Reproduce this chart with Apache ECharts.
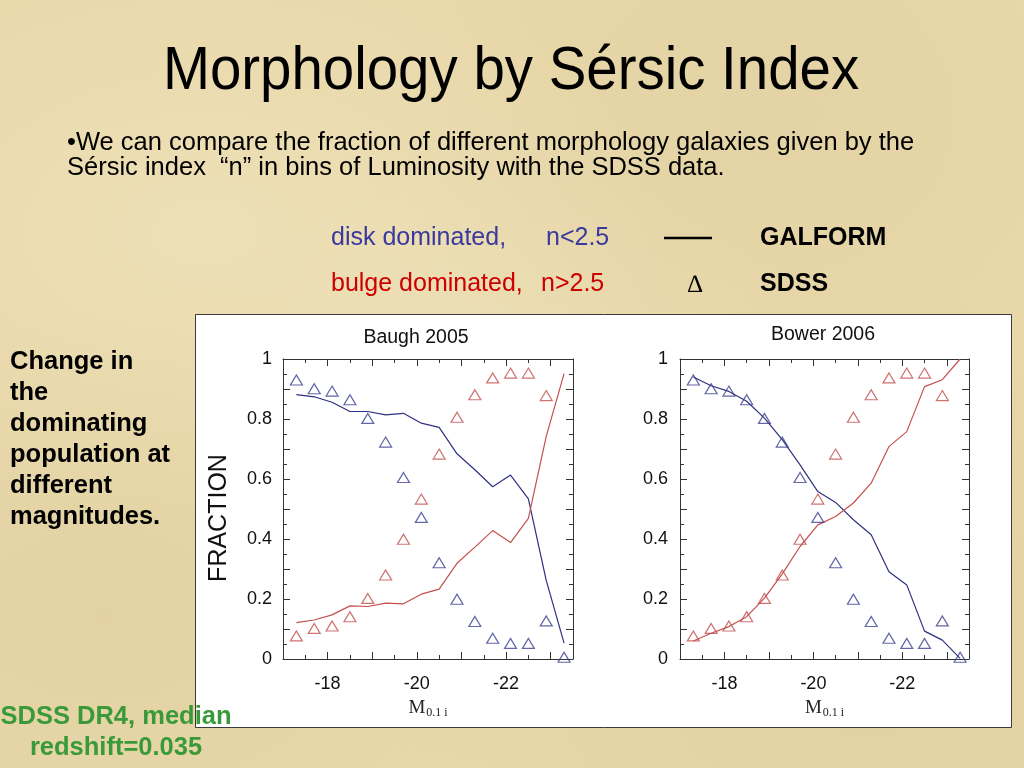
<!DOCTYPE html>
<html>
<head>
<meta charset="utf-8">
<script src="https://cdn.jsdelivr.net/npm/echarts@6/dist/echarts.min.js"></script>
<style>
html,body{margin:0;padding:0;width:1024px;height:768px;overflow:hidden;}
body{
  background-color:#e8d8aa;
  background-image:
    radial-gradient(ellipse at 20% 30%, rgba(250,240,210,0.30) 0%, rgba(250,240,210,0) 40%),
    radial-gradient(ellipse at 75% 15%, rgba(215,195,145,0.25) 0%, rgba(215,195,145,0) 35%),
    radial-gradient(ellipse at 85% 85%, rgba(210,190,140,0.30) 0%, rgba(210,190,140,0) 40%),
    radial-gradient(ellipse at 10% 80%, rgba(215,195,145,0.30) 0%, rgba(215,195,145,0) 35%),
    radial-gradient(ellipse at 50% 55%, rgba(245,235,205,0.30) 0%, rgba(245,235,205,0) 45%);
}
#chart{width:1024px;height:768px;}
</style>
</head>
<body>
<div id="chart"></div>
<script>
// ---- data ----
const mags = [-17.3,-17.7,-18.1,-18.5,-18.9,-19.3,-19.7,-20.1,-20.5,-20.9,-21.3,-21.7,-22.1,-22.5,-22.9,-23.3];
const sdssDisk  = [0.930,0.901,0.893,0.864,0.802,0.723,0.605,0.472,0.321,0.199,0.125,0.069,0.052,0.052,0.127,0.006];
const sdssBulge = [0.077,0.102,0.110,0.141,0.202,0.280,0.399,0.533,0.683,0.806,0.881,0.937,0.953,0.953,0.878,null];
const baughDisk  = [0.881,0.874,0.856,0.825,0.825,0.814,0.819,0.786,0.772,0.684,0.631,0.574,0.613,0.534,0.262,0.053];
const baughBulge = [0.121,0.130,0.147,0.177,0.175,0.186,0.184,0.216,0.233,0.319,0.373,0.428,0.388,0.469,0.742,0.951];
const bowerDisk  = [0.940,0.911,0.892,0.859,0.803,0.731,0.647,0.558,0.522,0.464,0.414,0.291,0.247,0.093,0.063,0.002];
const bowerBulge = [0.060,0.086,0.108,0.141,0.203,0.284,0.375,0.447,0.475,0.520,0.586,0.708,0.758,0.908,0.931,1.000];
const panelTitles = ['Baugh 2005','Bower 2006'];
const xMajorTicks = [-23,-22,-21,-20,-19,-18];
const xMinorTicks = [-23,-22.5,-22,-21.5,-21,-20.5,-20,-19.5,-19,-18.5,-18,-17.5];
const xLabelTicks = [-22,-20,-18];

const pairs = arr => mags.map((m,i)=>[m, arr[i]]);

const FONT = "'Liberation Sans', Arial, Helvetica, sans-serif";
const SERIF = "'Liberation Serif','Times New Roman',serif";
const AXC = '#333';
const BLUE_LINE = '#2e3180';
const RED_LINE = '#c4504e';
const BLUE_PT = '#3c4091';
const RED_PT = '#c0504d';

const grids = [
  {left:283, top:359, width:290, height:300},
  {left:680, top:359, width:289, height:300}
];

const xAxes = [], yAxes = [];
grids.forEach((g, gi) => {
  const base = {gridIndex:gi, type:'value', min:-23.5, max:-17, inverse:true, splitLine:{show:false}};
  xAxes.push(Object.assign({}, base, {
    position:'bottom',
    axisLine:{show:true, lineStyle:{color:AXC, width:1}},
    axisTick:{show:true, inside:true, length:7, customValues:xMajorTicks, lineStyle:{color:AXC}},
    axisLabel:{show:true, customValues:xLabelTicks, margin:16, fontSize:18, color:'#111', fontFamily:FONT},
    name:'{m|M}{s|0.1 i}', nameLocation:'middle', nameGap:38,
    nameTextStyle:{rich:{
      m:{fontFamily:SERIF, fontSize:19, color:'#222'},
      s:{fontFamily:SERIF, fontSize:12, color:'#222', verticalAlign:'bottom', padding:[10,0,0,1]}
    }}
  }));
  xAxes.push(Object.assign({}, base, {
    position:'bottom',
    axisLine:{show:false},
    axisTick:{show:true, inside:true, length:4, customValues:xMinorTicks, lineStyle:{color:AXC}},
    axisLabel:{show:false}
  }));
  xAxes.push(Object.assign({}, base, {
    position:'top',
    axisLine:{show:true, lineStyle:{color:AXC, width:1}},
    axisTick:{show:true, inside:true, length:7, customValues:xMajorTicks, lineStyle:{color:AXC}},
    axisLabel:{show:false}
  }));
  xAxes.push(Object.assign({}, base, {
    position:'top',
    axisLine:{show:false},
    axisTick:{show:true, inside:true, length:4, customValues:xMinorTicks, lineStyle:{color:AXC}},
    axisLabel:{show:false}
  }));
  const ybase = {gridIndex:gi, type:'value', min:0, max:1, interval:0.1, splitLine:{show:false},
    axisLine:{show:true, lineStyle:{color:AXC, width:1}},
    axisTick:{show:true, inside:true, length:7, lineStyle:{color:AXC}},
    minorTick:{show:true, splitNumber:2, length:4, lineStyle:{color:AXC}}};
  yAxes.push(Object.assign({}, ybase, {
    position:'left',
    axisLabel:{show:true, margin: gi===0 ? 11 : 12, fontSize:18, color:'#111', fontFamily:FONT,
      padding:[8,0,0,0],
      formatter: v => (Math.round(v*10) % 2 === 0) ? String(+v.toFixed(1)) : ''}
  }));
  yAxes.push(Object.assign({}, ybase, {position:'right', axisLabel:{show:false}}));
});

const lineSeries = (data, color, gi) => ({
  type:'line', xAxisIndex:gi*4, yAxisIndex:gi*2, data:pairs(data), symbol:'none',
  lineStyle:{color:color, width:1.2}, z:3, silent:true
});
const ptSeries = (data, color, gi) => ({
  type:'scatter', xAxisIndex:gi*4, yAxisIndex:gi*2, data:pairs(data).filter(p=>p[1]!==null),
  symbol:'triangle', symbolSize:[12,10],
  itemStyle:{color:'rgba(255,255,255,0)', borderColor:color, borderWidth:1.2}, z:4, silent:true
});

const series = [
  lineSeries(baughDisk, BLUE_LINE, 0), lineSeries(baughBulge, RED_LINE, 0),
  ptSeries(sdssDisk, BLUE_PT, 0), ptSeries(sdssBulge, RED_PT, 0),
  lineSeries(bowerDisk, BLUE_LINE, 1), lineSeries(bowerBulge, RED_LINE, 1),
  ptSeries(sdssDisk, BLUE_PT, 1), ptSeries(sdssBulge, RED_PT, 1)
];

const txt = (text, x, y, o) => ({
  type:'text', x:x, y:y, z:100,
  style:Object.assign({text:text, fontFamily:FONT, fontSize:24, fill:'#000', textAlign:'left', textVerticalAlign:'middle'}, o || {})
});

const leftLines = ['Change in','the','dominating','population at','different','magnitudes.'];

const graphics = [
  {type:'rect', z:-10, shape:{x:195.5, y:314.5, width:816, height:413}, style:{fill:'#ffffff', stroke:'#3a3a3a', lineWidth:1}},
  Object.assign(txt('Morphology by Sérsic Index', 511, 72, {fontSize:62, textAlign:'center'}), {scaleX:0.91}),
  txt('•We can compare the fraction of different morphology galaxies given by the', 67, 143, {fontSize:25.5}),
  txt('Sérsic index  \u201cn\u201d in bins of Luminosity with the SDSS data.', 67, 168, {fontSize:25.5}),
  txt('disk dominated,', 331, 238, {fontSize:25, fill:'#3a3a9e'}),
  txt('n<2.5', 546, 238, {fontSize:25, fill:'#3a3a9e'}),
  {type:'line', z:100, shape:{x1:664, y1:238, x2:712, y2:238}, style:{stroke:'#000', lineWidth:2.5}},
  txt('GALFORM', 760, 238, {fontSize:25, fontWeight:'bold'}),
  txt('bulge dominated,', 331, 284, {fontSize:25, fill:'#cc0000'}),
  txt('n>2.5', 541, 284, {fontSize:25, fill:'#cc0000'}),
  txt('\u2206', 695, 285, {fontSize:25, textAlign:'center', fontFamily:SERIF}),
  txt('SDSS', 760, 284, {fontSize:25, fontWeight:'bold'}),
  txt(panelTitles[0], 416, 338, {fontSize:19.5, textAlign:'center', fill:'#111'}),
  txt(panelTitles[1], 823, 335, {fontSize:19.5, textAlign:'center', fill:'#111'}),
  Object.assign(txt('FRACTION', 219, 518, {fontSize:25, textAlign:'center', fill:'#111'}), {rotation:Math.PI/2}),
  txt('SDSS DR4, median', 116, 717, {fontSize:25.5, fontWeight:'bold', textAlign:'center', fill:'#3a9a3a'}),
  txt('redshift=0.035', 116, 748, {fontSize:25.5, fontWeight:'bold', textAlign:'center', fill:'#3a9a3a'})
];
leftLines.forEach((s, i) => graphics.push(txt(s, 10, 362 + i*31, {fontSize:25.5, fontWeight:'bold'})));

const chart = echarts.init(document.getElementById('chart'), null, {renderer:'canvas'});
chart.setOption({
  backgroundColor:'transparent',
  animation:false,
  grid:grids,
  xAxis:xAxes,
  yAxis:yAxes,
  series:series,
  graphic:graphics
});
</script>
</body>
</html>
